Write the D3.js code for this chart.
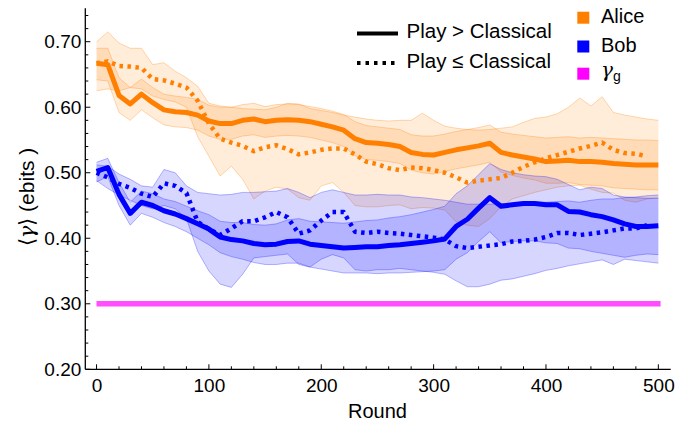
<!DOCTYPE html>
<html><head><meta charset="utf-8">
<script src="https://cdn.jsdelivr.net/npm/d3@7"></script>
<style>body{margin:0;background:#fff} svg{display:block} text{font-family:"Liberation Sans",Arial,sans-serif;fill:#000}</style>
</head><body><svg id="c" width="689" height="423"></svg>
<script>
const rounds = [0,10,20,30,40,50,60,70,80,90,100,110,120,130,140,150,160,170,180,190,200,210,220,230,240,250,260,270,280,290,300,310,320,330,340,350,360,370,380,390,400,410,420,430,440,450,460,470,480,490,500];
const aliceSolid = [0.667,0.665,0.618,0.605,0.620,0.607,0.596,0.593,0.592,0.588,0.579,0.575,0.575,0.580,0.582,0.578,0.580,0.581,0.580,0.578,0.574,0.570,0.565,0.552,0.546,0.545,0.543,0.540,0.531,0.528,0.527,0.531,0.535,0.538,0.541,0.545,0.531,0.527,0.524,0.521,0.517,0.518,0.519,0.517,0.517,0.516,0.514,0.513,0.512,0.512,0.512];
const aliceDotted = [0.667,0.670,0.663,0.662,0.660,0.643,0.641,0.636,0.630,0.610,0.575,0.552,0.546,0.541,0.533,0.539,0.542,0.536,0.528,0.531,0.535,0.537,0.537,0.528,0.517,0.513,0.507,0.504,0.508,0.507,0.504,0.500,0.493,0.485,0.488,0.490,0.492,0.500,0.509,0.516,0.522,0.527,0.532,0.537,0.541,0.546,0.535,0.530,0.529,0.525,null];
const bobSolid = [0.502,0.508,0.467,0.438,0.455,0.450,0.442,0.437,0.430,0.422,0.414,0.402,0.398,0.396,0.392,0.390,0.391,0.395,0.396,0.391,0.389,0.387,0.385,0.386,0.387,0.387,0.389,0.390,0.392,0.394,0.396,0.399,0.418,0.429,0.446,0.462,0.449,0.451,0.453,0.453,0.451,0.451,0.441,0.440,0.436,0.433,0.428,0.422,0.418,0.418,0.419];
const bobDotted = [0.500,0.493,0.483,0.477,0.468,0.463,0.484,0.480,0.469,0.425,0.414,0.405,0.415,0.426,0.426,0.432,0.440,0.432,0.407,0.412,0.427,0.440,0.440,0.410,0.408,0.410,0.408,0.407,0.405,0.403,0.401,0.398,0.388,0.385,0.387,0.389,0.391,0.395,0.396,0.398,0.402,0.408,0.408,0.405,0.407,0.409,0.412,0.415,0.415,0.420,null];
const aliceSolidHi = [0.690,0.690,0.645,0.630,0.643,0.630,0.620,0.617,0.615,0.612,0.603,0.600,0.600,0.604,0.606,0.601,0.604,0.605,0.604,0.601,0.598,0.594,0.589,0.578,0.572,0.570,0.568,0.566,0.558,0.556,0.556,0.559,0.563,0.566,0.569,0.573,0.562,0.559,0.557,0.555,0.553,0.554,0.555,0.553,0.554,0.553,0.552,0.551,0.550,0.550,0.549];
const aliceSolidLo = [0.642,0.640,0.592,0.580,0.596,0.584,0.573,0.570,0.569,0.565,0.556,0.551,0.551,0.556,0.558,0.554,0.556,0.557,0.556,0.554,0.550,0.546,0.540,0.526,0.520,0.519,0.517,0.514,0.504,0.500,0.498,0.502,0.506,0.509,0.512,0.516,0.501,0.496,0.492,0.489,0.484,0.484,0.485,0.482,0.481,0.480,0.477,0.476,0.475,0.474,0.474];
const aliceDottedHi = [0.700,0.715,0.698,0.690,0.690,0.665,0.668,0.655,0.645,0.632,0.606,0.602,0.600,0.598,0.597,0.596,0.600,0.606,0.605,0.598,0.595,0.592,0.588,0.585,0.582,0.580,0.579,0.580,0.580,0.591,0.580,0.571,0.568,0.566,0.565,0.566,0.568,0.570,0.577,0.583,0.585,0.590,0.600,0.614,0.602,0.616,0.592,0.588,0.585,0.582,0.580];
const aliceDottedLo = [0.625,0.628,0.625,0.630,0.628,0.617,0.612,0.608,0.600,0.555,0.525,0.495,0.510,0.490,0.460,0.472,0.478,0.475,0.462,0.458,0.480,0.485,0.470,0.450,0.448,0.448,0.450,0.451,0.445,0.447,0.446,0.443,0.425,0.420,0.418,0.430,0.448,0.460,0.465,0.470,0.474,0.478,0.480,0.481,0.475,0.470,0.469,0.458,0.455,0.460,0.462];
const bobSolidHi = [0.516,0.522,0.485,0.455,0.472,0.468,0.460,0.456,0.449,0.442,0.436,0.426,0.424,0.424,0.421,0.420,0.422,0.428,0.430,0.426,0.425,0.424,0.423,0.425,0.427,0.428,0.431,0.433,0.436,0.440,0.444,0.449,0.468,0.480,0.497,0.514,0.505,0.500,0.497,0.495,0.494,0.490,0.482,0.474,0.478,0.476,0.466,0.463,0.462,0.461,0.461];
const bobSolidLo = [0.486,0.494,0.450,0.420,0.438,0.432,0.424,0.418,0.410,0.400,0.390,0.378,0.372,0.368,0.363,0.360,0.360,0.362,0.362,0.356,0.353,0.350,0.347,0.347,0.347,0.346,0.347,0.347,0.348,0.349,0.350,0.352,0.368,0.378,0.395,0.410,0.393,0.395,0.396,0.396,0.393,0.392,0.385,0.384,0.380,0.377,0.374,0.371,0.374,0.376,0.375];
const bobDottedHi = [0.512,0.510,0.498,0.490,0.480,0.478,0.505,0.500,0.480,0.470,0.468,0.466,0.467,0.470,0.470,0.471,0.472,0.476,0.470,0.462,0.470,0.474,0.470,0.466,0.466,0.467,0.466,0.466,0.463,0.462,0.460,0.458,0.455,0.452,0.452,0.452,0.453,0.453,0.454,0.455,0.455,0.456,0.457,0.455,0.458,0.460,0.460,0.462,0.463,0.465,0.466];
const bobDottedLo = [0.488,0.476,0.466,0.458,0.450,0.445,0.450,0.445,0.430,0.380,0.350,0.330,0.325,0.345,0.370,0.372,0.374,0.376,0.360,0.356,0.368,0.375,0.370,0.352,0.350,0.352,0.352,0.354,0.352,0.350,0.348,0.345,0.335,0.326,0.326,0.330,0.336,0.338,0.342,0.346,0.351,0.354,0.358,0.361,0.364,0.367,0.360,0.368,0.366,0.364,0.362];
const gammaG = 0.30;
const gammaRounds = [0, 502];
const xTicks = [0,100,200,300,400,500];
const yTicks = [0.20,0.30,0.40,0.50,0.60,0.70];
const legendStyles = ["Play > Classical", "Play \u2264 Classical"];
const legendNames = ["Alice", "Bob"];

const ORANGE = "#ff8000", BLUE = "#0000ff", MAGENTA = "#ff4dff";
const svg = d3.select("#c");
const L = 85.3, R = 670.7, T = 8.3, B = 369.3;
const x = d3.scaleLinear().domain([-10, 511]).range([L, R]);
const y = d3.scaleLinear().domain([0.2, 0.751]).range([B, T]);

function band(lo, hi, color, fillOp, strokeOp) {
  const pts = rounds.map((r, i) => ({r, lo: lo[i], hi: hi[i]}));
  svg.append("path").datum(pts)
    .attr("d", d3.area().x(d => x(d.r)).y0(d => y(d.lo)).y1(d => y(d.hi)))
    .attr("fill", color).attr("fill-opacity", fillOp);
  svg.append("path").datum(pts).attr("d", d3.line().x(d => x(d.r)).y(d => y(d.hi)))
    .attr("fill", "none").attr("stroke", color).attr("stroke-opacity", strokeOp).attr("stroke-width", 1);
  svg.append("path").datum(pts).attr("d", d3.line().x(d => x(d.r)).y(d => y(d.lo)))
    .attr("fill", "none").attr("stroke", color).attr("stroke-opacity", strokeOp).attr("stroke-width", 1);
}
band(aliceDottedLo, aliceDottedHi, ORANGE, 0.15, 0.3);
band(aliceSolidLo, aliceSolidHi, ORANGE, 0.15, 0.3);
band(bobDottedLo, bobDottedHi, BLUE, 0.16, 0.28);
band(bobSolidLo, bobSolidHi, BLUE, 0.16, 0.28);

svg.append("line").attr("x1", x(gammaRounds[0])).attr("x2", x(gammaRounds[1]))
  .attr("y1", y(gammaG)).attr("y2", y(gammaG))
  .attr("stroke", MAGENTA).attr("stroke-width", 5.5);

function series(vals, color, dashed) {
  const pts = rounds.map((r, i) => ({r, v: vals[i]}));
  svg.append("path").datum(pts)
    .attr("d", d3.line().defined(d => d.v != null).x(d => x(d.r)).y(d => y(d.v)))
    .attr("fill", "none").attr("stroke", color).attr("stroke-width", dashed ? 4.5 : 5)
    .attr("stroke-linejoin", "round")
    .attr("stroke-dasharray", dashed ? "3.5,4.5" : null);
}
series(aliceDotted, ORANGE, true);
series(bobDotted, BLUE, true);
series(aliceSolid, ORANGE, false);
series(bobSolid, BLUE, false);

const ax = svg.append("g").attr("transform", `translate(0,${B})`)
  .call(d3.axisBottom(x).tickValues(xTicks).tickSize(0).tickPadding(9).tickFormat(d3.format("d")));
ax.select(".domain").remove();
ax.selectAll("text").attr("font-size", 19).attr("font-family", '"Liberation Sans",Arial,sans-serif');
const ay = svg.append("g").attr("transform", `translate(${L},0)`)
  .call(d3.axisLeft(y).tickValues(yTicks).tickSize(0).tickPadding(4).tickFormat(d3.format(".2f")));
ay.select(".domain").remove();
ay.selectAll("text").attr("font-size", 19).attr("font-family", '"Liberation Sans",Arial,sans-serif');

svg.append("line").attr("x1", L).attr("x2", R).attr("y1", B).attr("y2", B).attr("stroke", "#000").attr("stroke-width", 1.3);
svg.append("line").attr("x1", L).attr("x2", L).attr("y1", T).attr("y2", B).attr("stroke", "#000").attr("stroke-width", 1.3);
x.ticks(25).filter(t => t >= 0 && t <= 500).forEach(t => {
  const major = t % 100 === 0;
  svg.append("line").attr("x1", x(t)).attr("x2", x(t)).attr("y1", B).attr("y2", B - (major ? 5 : 3))
    .attr("stroke", "#000").attr("stroke-width", 1);
});
d3.range(10, 38).map(k => k / 50).forEach(t => {
  const major = Math.abs(t * 10 - Math.round(t * 10)) < 1e-6;
  svg.append("line").attr("x1", L).attr("x2", L + (major ? 5 : 3)).attr("y1", y(t)).attr("y2", y(t))
    .attr("stroke", "#000").attr("stroke-width", 1);
});

svg.append("text").attr("x", (x(0) + x(500)) / 2).attr("y", 418).attr("text-anchor", "middle")
  .attr("font-size", 20).text("Round");
const yl = svg.append("text").attr("transform", "translate(34,197) rotate(-90)").attr("text-anchor", "middle").attr("font-size", 21);
yl.append("tspan").text("\u27E8");
yl.append("tspan").attr("font-style", "italic").attr("font-family", "DejaVu Serif").text("\u03B3");
yl.append("tspan").text("\u27E9 (ebits )");

const lg = svg.append("g");
[0, 1].forEach(i => {
  const yy = i === 0 ? 33.5 : 63;
  lg.append("line").attr("x1", 357).attr("x2", 398).attr("y1", yy).attr("y2", yy)
    .attr("stroke", "#000").attr("stroke-width", 4).attr("stroke-dasharray", i === 0 ? null : "3.5,5");
  lg.append("text").attr("x", 406.5).attr("y", i === 0 ? 38 : 68).attr("font-size", 20.5).text(legendStyles[i]);
});
const sw = [ORANGE, BLUE, "#ff00ff"];
[0, 1, 2].forEach(i => {
  const yy = [11.7, 40.5, 67.7][i];
  lg.append("rect").attr("x", 577.3).attr("y", yy).attr("width", 12).attr("height", 12).attr("fill", sw[i]);
});
lg.append("text").attr("x", 601).attr("y", 22.7).attr("font-size", 20).text(legendNames[0]);
lg.append("text").attr("x", 601).attr("y", 51.7).attr("font-size", 20).text(legendNames[1]);
const gt = lg.append("text").attr("x", 601).attr("y", 77).attr("font-size", 20);
gt.append("tspan").attr("font-style", "italic").attr("font-family", "DejaVu Serif").text("\u03B3");
gt.append("tspan").attr("font-size", 14).attr("dy", 4).text("g");
</script></body></html>
